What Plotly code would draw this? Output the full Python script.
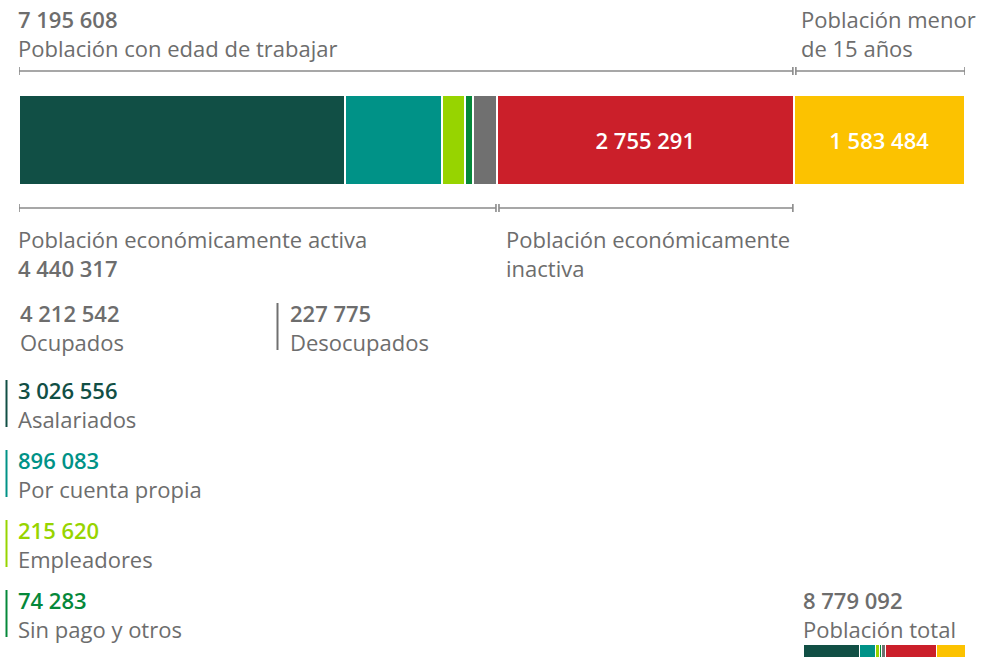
import plotly.graph_objects as go

# valores (personas)
categorias = ["Asalariados", "Por cuenta propia", "Empleadores", "Sin pago y otros",
              "Desocupados", "Población económicamente inactiva", "Población menor de 15 años"]
valores = [3026556, 896083, 215620, 74283, 227775, 2755291, 1583484]
colores = ["#114f45", "#009287", "#97d400", "#05883a", "#707070", "#cb1f2a", "#fcc200"]
etiquetas_barra = ["", "", "", "", "", "2 755 291", "1 583 484"]

ocupados = 4212542
desocupados = 227775
pea = 4440317
pet = 7195608
total = 8779092

GRIS = "#6d6d6d"
FUENTE = "Open Sans"
T = 22
W, H = 984, 658


def py(p):
    # pixel vertical -> coordenada paper
    return 1 - p / H


def px(p):
    return p / W


fig = go.Figure()

# barra principal
for cat, val, col, lab in zip(categorias, valores, colores, etiquetas_barra):
    fig.add_trace(go.Bar(
        y=[0], x=[val], orientation="h", name=cat,
        marker=dict(color=col, line=dict(color="white", width=2.5)),
        text=[lab], textposition="inside", insidetextanchor="middle",
        textfont=dict(color="white", size=T, family=FUENTE, weight=600),
        xaxis="x", yaxis="y", hoverinfo="skip", width=1,
    ))

# barra pequeña (población total)
for cat, val, col in zip(categorias, valores, colores):
    fig.add_trace(go.Bar(
        y=[0], x=[val], orientation="h", name=cat,
        marker=dict(color=col, line=dict(color="white", width=1)),
        xaxis="x2", yaxis="y2", hoverinfo="skip", width=1, showlegend=False,
    ))

ax_off = dict(visible=False, fixedrange=True)
fig.update_layout(
    width=W, height=H, margin=dict(l=0, r=0, t=0, b=0),
    paper_bgcolor="white", plot_bgcolor="white",
    barmode="stack", showlegend=False, bargap=0,
    xaxis=dict(domain=[px(19), px(965)], range=[0, total], **ax_off),
    yaxis=dict(domain=[py(185), py(95)], range=[-0.5, 0.5], **ax_off),
    xaxis2=dict(domain=[px(804), px(966)], range=[0, total], anchor="y2", **ax_off),
    yaxis2=dict(domain=[py(658), py(645)], range=[-0.5, 0.5], anchor="x2", **ax_off),
    font=dict(family=FUENTE, color=GRIS),
)


# corchetes (en unidades de datos)
def corchete(x0, x1, ypix):
    lw = 1.6
    fig.add_shape(type="line", xref="x", yref="paper", x0=x0, x1=x1, y0=py(ypix), y1=py(ypix),
                  line=dict(color="#8a8a8a", width=lw))
    for xx in (x0, x1):
        fig.add_shape(type="line", xref="x", yref="paper", x0=xx, x1=xx,
                      y0=py(ypix - 4), y1=py(ypix + 4), line=dict(color="#8a8a8a", width=lw))


gap = total * 3 / 946
corchete(0, pet - gap / 2, 71)
corchete(pet + gap / 2, total, 71)
corchete(0, pea - gap / 2, 208)
corchete(pea + gap / 2, pet - gap / 2, 208)


def fmt(n):
    return f"{n:,}".replace(",", " ")


def num(n, color=GRIS):
    return f"<span style='font-weight:600;color:{color}'>{fmt(n)}</span>"


def bloque(x, ymid, lineas):
    fig.add_annotation(
        x=px(x), y=py(ymid), xref="paper", yref="paper", text="<br>".join(lineas),
        showarrow=False, xanchor="left", yanchor="middle", align="left",
        font=dict(family=FUENTE, size=T, color=GRIS),
    )


bloque(16, 33, [num(pet), "Población con edad de trabajar"])
bloque(799, 33.5, ["Población menor", "de 15 años"])

bloque(16, 254, ["Población económicamente activa", num(pea)])
bloque(504, 254, ["Población económicamente", "inactiva"])

bloque(18, 327, [num(ocupados), "Ocupados"])
bloque(288, 327, [num(desocupados), "Desocupados"])
fig.add_shape(type="line", xref="paper", yref="paper", x0=px(277.5), x1=px(277.5),
              y0=py(303), y1=py(350), line=dict(color="#707070", width=2))

tops = [380, 450, 520, 590]
nombres = ["Asalariados", "Por cuenta propia", "Empleadores", "Sin pago y otros"]
for t, nom, val, col in zip(tops, nombres, valores[:4], colores[:4]):
    fig.add_shape(type="line", xref="paper", yref="paper", x0=px(6.5), x1=px(6.5),
                  y0=py(t), y1=py(t + 47), line=dict(color=col, width=2))
    bloque(16, t + 24, [num(val, col), nom])

bloque(801, 614, [num(total), "Población total"])

fig.write_html("out.html", config={"displayModeBar": False},
               post_script="document.body.style.margin='0';")
